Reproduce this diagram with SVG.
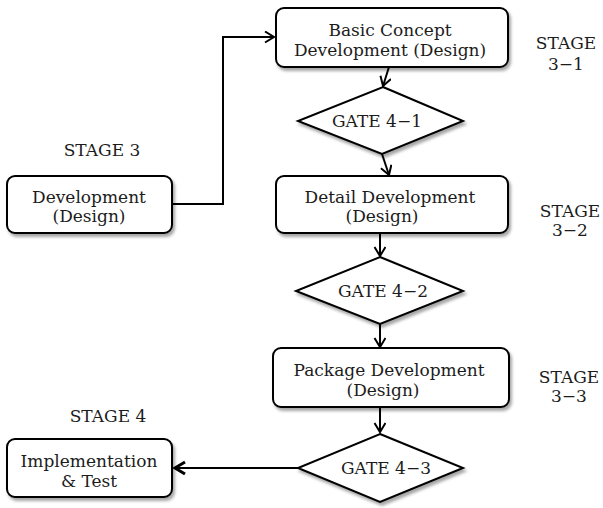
<svg xmlns="http://www.w3.org/2000/svg" width="603" height="508" viewBox="0 0 603 508">
<defs>
<filter id="sh" x="-10%" y="-10%" width="125%" height="135%">
<feDropShadow dx="2" dy="3" stdDeviation="1.8" flood-color="#000" flood-opacity="0.35"/>
</filter>
<marker id="arr" markerUnits="userSpaceOnUse" markerWidth="14" markerHeight="14" refX="10" refY="6" orient="auto">
<path d="M1,0.5 L10,6 L1,11.5" fill="none" stroke="#000" stroke-width="2" stroke-linejoin="miter"/>
</marker>
<marker id="arrB" markerUnits="userSpaceOnUse" markerWidth="16" markerHeight="16" refX="11" refY="7" orient="auto">
<path d="M1,1 L11,7 L1,13" fill="none" stroke="#000" stroke-width="3"/>
</marker>
</defs>
<style>
.box{fill:#fff;stroke:#000;stroke-width:2;filter:url(#sh)}
.dia{fill:#fff;stroke:#000;stroke-width:2;filter:url(#sh)}
.t{font-family:"DejaVu Serif","Liberation Serif",serif;font-size:17px;fill:#1c1c1c;text-anchor:middle}
.c{fill:none;stroke:#000;stroke-width:2}
</style>
<rect width="603" height="508" fill="#fff"/>

<g id="connectors">
<polyline class="c" points="172,204 223,204 223,37 274,37" marker-end="url(#arr)"/>
<line class="c" x1="389" y1="67" x2="383" y2="86" marker-end="url(#arr)"/>
<line class="c" x1="382" y1="154" x2="389" y2="175" marker-end="url(#arr)"/>
<line class="c" x1="380" y1="233" x2="380" y2="256" marker-end="url(#arr)"/>
<line class="c" x1="380" y1="324" x2="380" y2="347" marker-end="url(#arr)"/>
<line class="c" x1="380" y1="407" x2="380" y2="432" marker-end="url(#arr)"/>
<line class="c" x1="298" y1="468" x2="175" y2="468" stroke-width="3" marker-end="url(#arrB)"/>
</g>

<g id="stage3-label"><text class="t" x="102" y="156">STAGE 3</text></g>
<g id="stage4-label"><text class="t" x="108" y="422">STAGE 4</text></g>
<g id="stage31-label"><text class="t" x="566" y="49">STAGE</text><text class="t" x="566" y="70">3−1</text></g>
<g id="stage32-label"><text class="t" x="570" y="217">STAGE</text><text class="t" x="570" y="236">3−2</text></g>
<g id="stage33-label"><text class="t" x="569" y="383">STAGE</text><text class="t" x="569" y="402">3−3</text></g>

<g id="development">
<rect class="box" x="7" y="176" width="165" height="57" rx="8"/>
<text class="t" x="89" y="203">Development</text>
<text class="t" x="89" y="222">(Design)</text>
</g>

<g id="basic-concept">
<rect class="box" x="276" y="8" width="232" height="59" rx="8"/>
<text class="t" x="390" y="36">Basic Concept</text>
<text class="t" x="390" y="56">Development (Design)</text>
</g>

<g id="gate41">
<polygon class="dia" points="383,87 463,121 382,154 298,121"/>
<text class="t" x="377" y="127">GATE 4−1</text>
</g>

<g id="detail-development">
<rect class="box" x="276" y="176" width="232" height="57" rx="8"/>
<text class="t" x="390" y="203">Detail Development</text>
<text class="t" x="382" y="222">(Design)</text>
</g>

<g id="gate42">
<polygon class="dia" points="380,257 463,291 380,324 296,291"/>
<text class="t" x="383" y="297">GATE 4−2</text>
</g>

<g id="package-development">
<rect class="box" x="273" y="348" width="236" height="59" rx="8"/>
<text class="t" x="389" y="376">Package Development</text>
<text class="t" x="383" y="396">(Design)</text>
</g>

<g id="gate43">
<polygon class="dia" points="380,434 463,468 380,502 298,468"/>
<text class="t" x="386" y="474">GATE 4−3</text>
</g>

<g id="implementation">
<rect class="box" x="7" y="439" width="165" height="58" rx="8"/>
<text class="t" x="89" y="467">Implementation</text>
<text class="t" x="89" y="487">&amp; Test</text>
</g>
</svg>
